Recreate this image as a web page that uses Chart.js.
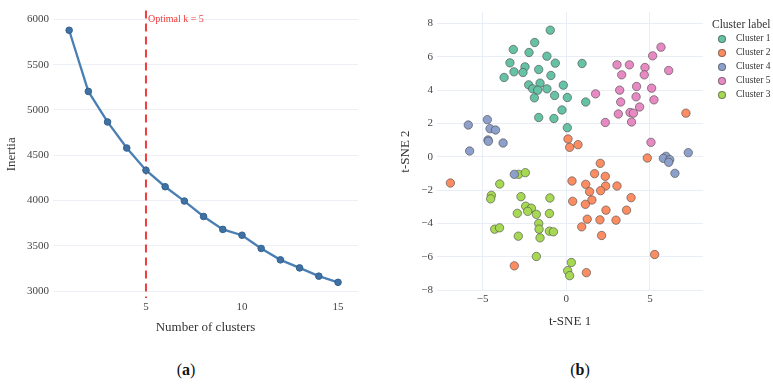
<!DOCTYPE html>
<html>
<head>
<meta charset="utf-8">
<script src="https://cdn.jsdelivr.net/npm/chart.js@4.4.1/dist/chart.umd.min.js"></script>
<style>
  html, body { margin: 0; padding: 0; background: #fff; overflow: hidden; }
  body { width: 773px; height: 384px; position: relative; font-family: "Liberation Serif", "Times New Roman", serif; color: #333; }
  canvas { position: absolute; top: 0; }
  #elbow { left: 0; }
  #tsne { left: 380px; }
  .tag { position: absolute; top: 361px; width: 100px; text-align: center; font-size: 16px; line-height: 18px; color: #111; }
  #tsneLegend { position: absolute; left: 712px; top: 17px; color: #333; }
  #tsneLegend .ltitle { font-size: 11.5px; line-height: 14px; height: 14px; white-space: nowrap; }
  #tsneLegend .item { position: relative; height: 14px; line-height: 14px; font-size: 9.5px; padding-left: 24px; white-space: nowrap; }
  #tsneLegend .dot { position: absolute; left: 5.5px; top: 3.5px; width: 6.5px; height: 6.5px; border-radius: 50%; border: 0.5px solid rgba(60,60,60,0.55); }
</style>
</head>
<body>
<canvas id="elbow" width="372" height="345"></canvas>
<canvas id="tsne" width="393" height="345"></canvas>
<div id="tsneLegend"><div class="ltitle">Cluster label</div></div>
<div class="tag" style="left:136px">(<b>a</b>)</div>
<div class="tag" style="left:530px">(<b>b</b>)</div>
<script>
// elbow curve
const K_VALUES = [1, 2, 3, 4, 5, 6, 7, 8, 9, 10, 11, 12, 13, 14, 15];
const INERTIA = [5880, 5205, 4868, 4580, 4335, 4153, 3995, 3825, 3682, 3618, 3472, 3346, 3257, 3166, 3098];
const OPTIMAL_K = 5;
const K_TICKS = [5, 10, 15];
const INERTIA_TICKS = [3000, 3500, 4000, 4500, 5000, 5500, 6000];

// t-SNE embedding, [x, y] per point
const CLUSTER_1 = [[-0.96,7.59],[-1.89,6.85],[-3.17,6.43],[-2.23,6.25],[-1.16,6.03],[-3.37,5.63],[-0.66,5.61],[-2.47,5.39],[-3.13,5.09],[-2.59,5.05],[-1.65,5.23],[-0.92,4.87],[-3.72,4.75],[-2.25,4.31],[-1.57,4.41],[-0.18,4.29],[-2.01,4.07],[-1.71,3.99],[-1.16,4.07],[-1.91,3.53],[-0.70,3.67],[0.06,3.55],[-0.26,2.80],[-1.65,2.35],[-0.74,2.29],[0.06,1.74],[0.94,5.59],[1.16,3.28]];
const CLUSTER_2 = [[7.15,2.61],[4.84,-0.08],[0.70,0.72],[0.10,1.06],[0.20,0.56],[2.03,-0.40],[1.69,-1.02],[2.33,-1.18],[0.34,-1.46],[1.16,-1.66],[2.35,-1.76],[3.03,-1.76],[-6.93,-1.58],[1.39,-2.10],[2.05,-2.04],[3.87,-2.46],[1.53,-2.60],[0.38,-2.68],[1.14,-2.86],[2.37,-3.21],[3.60,-3.21],[1.25,-3.75],[2.01,-3.79],[2.97,-3.81],[0.92,-4.21],[2.11,-4.73],[5.28,-5.87],[1.20,-6.96],[-3.11,-6.55]];
const CLUSTER_4 = [[-5.86,1.90],[-4.72,2.22],[-4.56,1.68],[-4.23,1.60],[-4.68,1.00],[-4.66,0.92],[-3.78,0.82],[-5.78,0.34],[-3.11,-1.06],[5.96,0.02],[5.80,-0.10],[6.18,-0.18],[6.12,-0.34],[7.29,0.24],[6.49,-1.00]];
const CLUSTER_5 = [[5.66,6.57],[5.16,6.05],[3.03,5.51],[3.77,5.51],[4.70,5.35],[6.12,5.17],[3.31,4.91],[4.66,4.91],[4.20,4.21],[5.10,4.11],[3.19,3.99],[1.75,3.77],[4.17,3.59],[5.24,3.41],[3.25,3.28],[4.38,2.98],[3.11,2.56],[3.81,2.65],[4.01,2.61],[2.33,2.05],[3.90,2.08],[5.06,0.86]];
const CLUSTER_3 = [[-2.85,-1.06],[-2.45,-0.96],[-3.98,-1.64],[-4.48,-2.32],[-4.52,-2.53],[-2.71,-2.40],[-0.98,-2.48],[-2.43,-2.97],[-2.09,-3.09],[-2.31,-3.28],[-2.93,-3.40],[-1.79,-3.46],[-1.01,-3.41],[-1.65,-4.01],[-1.63,-4.35],[-4.28,-4.35],[-3.99,-4.27],[-1.01,-4.47],[-0.77,-4.51],[-2.87,-4.77],[-1.57,-4.87],[-1.79,-5.99],[0.30,-6.35],[0.08,-6.84],[0.20,-7.14]];
const TSNE_X_TICKS = [-5, 0, 5];
const TSNE_Y_TICKS = [-8, -6, -4, -2, 0, 2, 4, 6, 8];

const CLUSTER_NAMES = ["Cluster 1", "Cluster 2", "Cluster 4", "Cluster 5", "Cluster 3"];
const CLUSTER_POINTS = [CLUSTER_1, CLUSTER_2, CLUSTER_4, CLUSTER_5, CLUSTER_3];
const CLUSTER_COLORS = ["rgb(102,194,165)", "rgb(252,141,98)", "rgb(141,160,203)", "rgb(231,138,195)", "rgb(166,216,84)"];

const RED = "#f03c3c";
const TICK_COLOR = "#444";
const TITLE_COLOR = "#333";

Chart.defaults.font.family = '"Liberation Serif", "Times New Roman", serif';
Chart.defaults.animation = false;

const minus = (v) => (v < 0 ? "\u2212" + Math.abs(v) : String(v));
const fixedTicks = (values) => (scale) => { scale.ticks = values.map((value) => ({ value })); };

const optimalMarker = {
  id: "optimalMarker",
  beforeDatasetsDraw(chart) {
    const { ctx, chartArea, scales } = chart;
    const x = scales.x.getPixelForValue(OPTIMAL_K);
    ctx.save();
    ctx.strokeStyle = RED;
    ctx.lineWidth = 2;
    ctx.setLineDash([8, 5]);
    ctx.beginPath();
    ctx.moveTo(x, chartArea.top);
    ctx.lineTo(x, chartArea.bottom);
    ctx.stroke();
    ctx.setLineDash([]);
    ctx.fillStyle = RED;
    ctx.font = '10px "Liberation Serif"';
    ctx.textBaseline = "middle";
    ctx.fillText(`Optimal k = ${OPTIMAL_K}`, x + 2, chartArea.top + 9);
    ctx.restore();
  },
};

new Chart(document.getElementById("elbow"), {
  type: "line",
  data: {
    datasets: [{
      data: K_VALUES.map((k, i) => ({ x: k, y: INERTIA[i] })),
      borderColor: "#4a7fb4",
      borderWidth: 2.3,
      backgroundColor: "#3f71a3",
      pointBorderColor: "#32628f",
      pointBorderWidth: 1,
      pointRadius: 3.3,
      tension: 0,
    }],
  },
  options: {
    responsive: false,
    layout: { padding: { left: 0, top: 4, right: 14, bottom: 0 } },
    plugins: { legend: { display: false }, tooltip: { enabled: false } },
    scales: {
      x: {
        type: "linear",
        min: 0.16,
        max: 16.04,
        afterFit(s) { s.height = 47; },
        afterBuildTicks: fixedTicks(K_TICKS),
        grid: { display: false, drawTicks: false },
        border: { display: false },
        ticks: { padding: 3, color: TICK_COLOR, font: { size: 11 }, callback: (v) => String(v) },
        title: { display: true, text: "Number of clusters", color: TITLE_COLOR, font: { size: 13 }, padding: { top: 0, bottom: 10 } },
      },
      y: {
        min: 2925,
        max: 6097,
        afterFit(s) { s.width = 53; },
        afterBuildTicks: fixedTicks(INERTIA_TICKS),
        grid: { color: "#eceff6", drawTicks: false },
        border: { display: false },
        ticks: { padding: 4, color: TICK_COLOR, font: { size: 11 }, callback: (v) => String(v) },
        title: { display: true, text: "Inertia", color: TITLE_COLOR, font: { size: 13 }, padding: { top: 4, bottom: 0 } },
      },
    },
  },
  plugins: [optimalMarker],
});

new Chart(document.getElementById("tsne"), {
  type: "scatter",
  data: {
    datasets: CLUSTER_POINTS.map((pts, i) => ({
      label: CLUSTER_NAMES[i],
      data: pts.map(([x, y]) => ({ x, y })),
      backgroundColor: CLUSTER_COLORS[i],
      borderColor: "rgba(70,70,70,0.75)",
      borderWidth: 0.8,
      pointRadius: 4.2,
    })),
  },
  options: {
    responsive: false,
    layout: { padding: { left: 0, top: 12, right: 70, bottom: 0 } },
    plugins: { legend: { display: false }, tooltip: { enabled: false } },
    scales: {
      x: {
        min: -7.73,
        max: 8.17,
        afterFit(s) { s.height = 54; },
        afterBuildTicks: fixedTicks(TSNE_X_TICKS),
        grid: { color: "#e9edf5", drawTicks: false },
        border: { display: false },
        ticks: { padding: 2, color: TICK_COLOR, font: { size: 11 }, callback: minus },
        title: { display: true, text: "t-SNE 1", color: TITLE_COLOR, font: { size: 13 }, padding: { top: 0, bottom: 16 } },
      },
      y: {
        min: -8.06,
        max: 8.68,
        afterFit(s) { s.width = 57; },
        afterBuildTicks: fixedTicks(TSNE_Y_TICKS),
        grid: { color: "#e9edf5", drawTicks: false },
        border: { display: false },
        ticks: { padding: 4, color: TICK_COLOR, font: { size: 11 }, callback: minus },
        title: { display: true, text: "t-SNE 2", color: TITLE_COLOR, font: { size: 13 }, padding: { top: 18, bottom: 0 } },
      },
    },
  },
});

const legendBox = document.getElementById("tsneLegend");
CLUSTER_NAMES.forEach((name, i) => {
  const row = document.createElement("div");
  row.className = "item";
  const dot = document.createElement("span");
  dot.className = "dot";
  dot.style.background = CLUSTER_COLORS[i];
  row.appendChild(dot);
  row.appendChild(document.createTextNode(name));
  legendBox.appendChild(row);
});
</script>
</body>
</html>
